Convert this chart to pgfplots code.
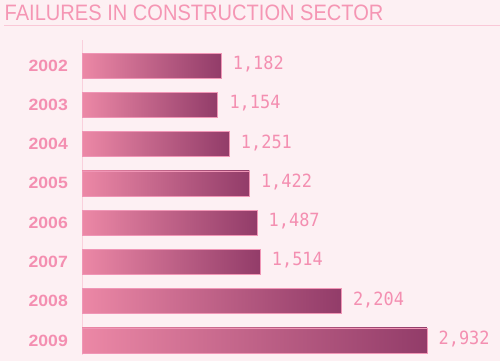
\documentclass[border=0pt]{standalone}
\usepackage{fontspec}
\usepackage{pgfplots}
\usepackage{pgfplotstable}
\pgfplotsset{compat=1.18}
\setmainfont{Liberation Sans}
\newfontfamily\titlefont[FakeStretch=0.9]{Liberation Sans}
\newfontfamily\yearfont[FakeStretch=1.08]{Liberation Sans}
\newfontfamily\valfont[FakeStretch=0.93]{DejaVu Sans Mono}
\definecolor{bg}{RGB}{253,240,243}
\definecolor{pinktext}{RGB}{244,143,177}
\definecolor{titlepink}{RGB}{245,150,180}
\definecolor{rule}{RGB}{250,200,215}
\definecolor{axisline}{RGB}{250,208,220}
\definecolor{barleft}{RGB}{236,136,166}
\definecolor{barright}{RGB}{146,60,105}
\definecolor{barborder}{RGB}{240,150,182}
\pgfplotstableread{
y v lab
0 1182 1,182
1 1154 1,154
2 1251 1,251
3 1422 1,422
4 1487 1,487
5 1514 1,514
6 2204 2,204
7 2932 2,932
}\failures
\begin{document}
\begin{tikzpicture}
\useasboundingbox (0,0) rectangle (500pt,361pt);
\fill[bg] (0,0) rectangle (500pt,361pt);
\node[anchor=base west, inner sep=0pt, text=titlepink, font=\titlefont\fontsize{22.3}{24}\selectfont] at (4.5pt,340pt) {FAILURES IN CONSTRUCTION SECTOR};
\draw[rule, line width=1pt] (4pt,335pt) -- (500pt,335pt);
\begin{axis}[
  at={(82pt,6pt)}, anchor=south west,
  scale only axis,
  width=418pt, height=315pt,
  xmin=0, xmax=3554,
  ymin=-0.65, ymax=7.37,
  y dir=reverse,
  xbar, bar width=25pt,
  axis x line=none,
  axis y line*=left,
  y axis line style={draw=axisline, line width=1pt, -},
  ytick={0,...,7},
  yticklabels={2002,2003,2004,2005,2006,2007,2008,2009},
  major tick length=0pt,
  ytick style={draw=none},
  yticklabel style={anchor=east, inner sep=0pt, xshift=-14pt, text=pinktext, font=\yearfont\bfseries\fontsize{16.3}{18}\selectfont},
  clip=false,
  point meta=explicit symbolic,
  nodes near coords={\pgfplotspointmeta},
  every node near coord/.append style={anchor=west, inner sep=0pt, xshift=11.5pt, yshift=1.5pt, text=pinktext, font=\valfont\fontsize{18.2}{20}\selectfont},
]
\pgfplotsinvokeforeach{0,...,7}{
\addplot[xbar, bar shift=0pt, draw=barborder, line width=0.6pt, left color=barleft, right color=barright,
  restrict y to domain=#1:#1] table[x=v, y=y, meta=lab] {\failures};
}
\end{axis}
\end{tikzpicture}
\end{document}
